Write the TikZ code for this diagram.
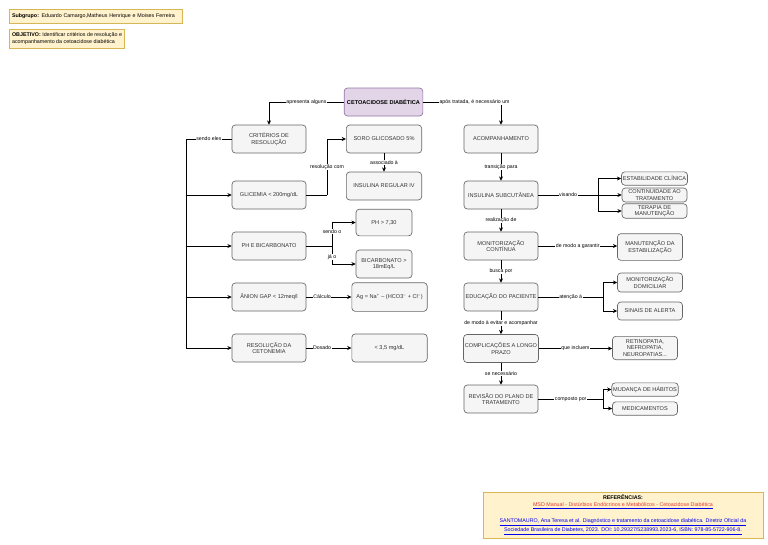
\documentclass[tikz,border=0pt]{standalone}
\usepackage{fontspec}
\setmainfont{Liberation Sans}
\usetikzlibrary{arrows.meta}

\definecolor{boxfill}{HTML}{F5F5F5}
\definecolor{boxline}{HTML}{666666}
\definecolor{boxtext}{HTML}{333333}
\definecolor{notefill}{HTML}{FFF2CC}
\definecolor{noteline}{HTML}{D6B656}
\definecolor{mainfill}{HTML}{E1D5E7}
\definecolor{mainline}{HTML}{9673A6}
\definecolor{linkred}{HTML}{E53935}
\definecolor{linkblue}{HTML}{0000EE}

% underlined link: blue rule, text in the given colour
\newcommand{\reflink}[2]{{\color{linkblue}\underline{\textcolor{#1}{#2}}}}

\tikzset{every picture/.style={line width=0.75pt}}
\tikzset{
  box/.style={draw=boxline, fill=boxfill, rounded corners=2.5pt, line width=0.5pt, text=boxtext,
    align=center, font=\fontsize{4.2}{5}\selectfont, minimum width=55.5pt, minimum height=21pt, inner sep=1pt},
  mainbox/.style={box, draw=mainline, fill=mainfill, text=black, font=\fontsize{4.2}{5}\selectfont\bfseries,
    minimum width=59pt},
  smallbox/.style={box, minimum width=48.75pt, minimum height=10.5pt},
  note/.style={draw=noteline, fill=notefill, line width=0.6pt, font=\fontsize{4}{5}\selectfont, inner sep=2pt},
  lbl/.style={fill=white, inner sep=0.4pt, font=\fontsize{3.9}{4.6}\selectfont},
  arr/.style={-{Stealth[length=3.2pt,width=3pt]}},
}

\begin{document}
\begin{tikzpicture}[x=0.75pt,y=0.75pt,yscale=-1,xscale=1]
\useasboundingbox (0,0) rectangle (768,544);

% Notes
\node[note, anchor=north west, text width=125.5pt, minimum height=10.5pt, align=left] (subgrupo) at (9,9)
  {\textbf{Subgrupo:} Eduardo Camargo,Matheus Henrique e Moises Ferreira};
\node[note, anchor=north west, minimum height=14.25pt, align=left] (objetivo) at (9,29)
  {\textbf{OBJETIVO:} Identificar critérios de resolução e\\acompanhamento da cetoacidose diabética};

% Main concept
\node[mainbox] (cad) at (383.5,102) {CETOACIDOSE DIABÉTICA};

% Left column
\node[box] (crit) at (269,139) {CRITÉRIOS DE\\RESOLUÇÃO};
\node[box] (glic) at (269,195) {GLICEMIA < 200mg/dL};
\node[box] (ph) at (269,246) {PH E BICARBONATO};
\node[box] (anion) at (269,297) {ÂNION GAP < 12meq/l};
\node[box] (ceto) at (269,348) {RESOLUÇÃO DA\\CETONEMIA};

% Middle column
\node[box, minimum width=56.5pt] (soro) at (384,139) {SORO GLICOSADO 5\%};
\node[box, minimum width=56.5pt] (insreg) at (384,186) {INSULINA REGULAR IV};
\node[box, minimum width=42pt, minimum height=20pt] (phval) at (384,222.5) {PH > 7,30};
\node[box, minimum width=42pt, minimum height=21pt] (bicval) at (384,264) {BICARBONATO >\\18mEq/L};
\node[box, minimum width=56.5pt, minimum height=21.5pt] (agcalc) at (389.5,297)
  {Ag = Na\textsuperscript{+} – (HCO3\textsuperscript{–} + Cl\textsuperscript{–})};
\node[box, minimum width=56.5pt] (cetoval) at (389.5,348) {< 3,5 mg/dL};

% Right column
\node[box] (acomp) at (501,139) {ACOMPANHAMENTO};
\node[box] (inssub) at (501,195) {INSULINA SUBCUTÂNEA};
\node[box] (monit) at (501,246) {MONITORIZAÇÃO\\CONTÍNUA};
\node[box] (educ) at (501,297) {EDUCAÇÃO DO PACIENTE};
\node[box] (compl) at (501,348.5) {COMPLICAÇÕES A LONGO\\PRAZO};
\node[box] (revis) at (501,399) {REVISÃO DO PLANO DE\\TRATAMENTO};

% Far right
\node[smallbox, minimum height=10pt] (estab) at (654.5,178.5) {ESTABILIDADE CLÍNICA};
\node[smallbox] (contin) at (654.5,195) {CONTINUIDADE AO\\TRATAMENTO};
\node[smallbox] (terap) at (654.5,211) {TERAPIA DE\\MANUTENÇÃO};
\node[smallbox, minimum height=20pt] (manut) at (650,247) {MANUTENÇÃO DA\\ESTABILIZAÇÃO};
\node[smallbox, minimum height=14.25pt] (domic) at (650,282.5) {MONITORIZAÇÃO\\DOMICILIAR};
\node[smallbox, minimum height=13.5pt] (sinais) at (650,311) {SINAIS DE ALERTA};
\node[smallbox, minimum height=17.5pt] (retino) at (645,348) {RETINOPATIA,\\NEFROPATIA,\\NEUROPATIAS...};
\node[smallbox, minimum height=10pt] (habit) at (645,389.5) {MUDANÇA DE HÁBITOS};
\node[smallbox, minimum height=10pt] (medic) at (645,408.5) {MEDICAMENTOS};

% Junctions
\coordinate (busL) at (186,139);
\coordinate (jGlic) at (327,195);
\coordinate (jPh) at (332,246);
\coordinate (jIns) at (598,195);
\coordinate (jEduc) at (603,297);
\coordinate (jRev) at (603,399);

% Connectors from the main concept
\draw[arr] (cad.west) -| node[lbl,pos=0.25]{apresenta alguns} (crit.north);
\draw[arr] (cad.east) -| node[lbl,pos=0.33]{após tratada, é necessário um} (acomp.north);

% Left branch
\draw (crit.west) -- node[lbl]{sendo eles} (busL);
\draw[arr] (busL) |- (glic.west);
\draw[arr] (busL) |- (ph.west);
\draw[arr] (busL) |- (anion.west);
\draw[arr] (busL) |- (ceto.west);

\draw (glic.east) -- (jGlic);
\draw[arr] (jGlic) |- node[lbl,pos=0.25]{resolução com} (soro.west);
\draw[arr] (soro) -- node[lbl]{associado à} (insreg);

\draw (ph.east) -- (jPh);
\draw[arr] (jPh) |- node[lbl,pos=0.3]{sendo o} (phval.west);
\draw[arr] (jPh) |- node[lbl,pos=0.3]{já o} (bicval.west);

\draw[arr] (anion) -- node[lbl,pos=0.35]{Cálculo} (agcalc);
\draw[arr] (ceto) -- node[lbl,pos=0.35]{Dosado} (cetoval);

% Right branch
\draw[arr] (acomp) -- node[lbl]{transição para} (inssub);
\draw[arr] (inssub) -- node[lbl]{realização de} (monit);
\draw[arr] (monit) -- node[lbl]{busca por} (educ);
\draw[arr] (educ) -- node[lbl]{de modo à evitar e acompanhar} (compl);
\draw[arr] (compl) -- node[lbl]{se necessário} (revis);

\draw (inssub.east) -- node[lbl]{visando} (jIns);
\draw[arr] (jIns) |- (estab.west);
\draw[arr] (jIns) -- (contin.west);
\draw[arr] (jIns) |- (terap.west);

\draw[arr] (monit.east) -- node[lbl,pos=0.5]{de modo a garantir} (monit.east -| manut.west);

\draw (educ.east) -- node[lbl]{atenção à} (jEduc);
\draw[arr] (jEduc) |- (domic.west);
\draw[arr] (jEduc) |- (sinais.west);

\draw[arr] (compl.east) -- node[lbl]{que incluem} (compl.east -| retino.west);

\draw (revis.east) -- node[lbl]{composto por} (jRev);
\draw[arr] (jRev) |- (habit.west);
\draw[arr] (jRev) |- (medic.west);

% References
\node[note, minimum width=210pt, minimum height=34.5pt, align=center, font=\fontsize{4}{5}\selectfont] (refs) at (623,515)
  {\textbf{REFERÊNCIAS:}\\
   \reflink{linkred}{MSD Manual - Distúrbios Endócrinos e Metabólicos - Cetoacidose Diabética}\\[7pt]
   \reflink{linkblue}{SANTOMAURO, Ana Teresa et al. Diagnóstico e tratamento da cetoacidose diabética. Diretriz Oficial da}\\
   \reflink{linkblue}{Sociedade Brasileira de Diabetes, 2023. DOI: 10.29327/5238993.2023-6, ISBN: 978-85-5722-906-8.}};

\end{tikzpicture}
\end{document}
